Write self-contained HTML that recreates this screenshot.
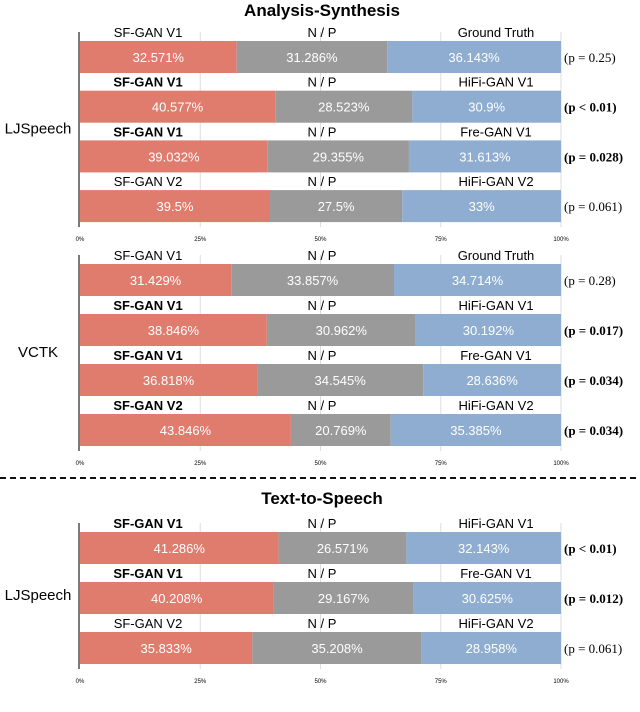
<!DOCTYPE html>
<html><head><meta charset="utf-8"><style>
body{margin:0;background:#fff;}
svg text{font-family:"Liberation Sans",sans-serif;}
.serif{font-family:"Liberation Serif",serif !important;}
</style></head><body>
<svg id="chart" width="640" height="707" viewBox="0 0 640 707" xmlns="http://www.w3.org/2000/svg">
<text x="322" y="16" text-anchor="middle" font-size="17" font-weight="bold">Analysis-Synthesis</text>
<line x1="0" y1="478" x2="640" y2="478" stroke="#111" stroke-width="2" stroke-dasharray="6,4"/>
<text x="322" y="504" text-anchor="middle" font-size="17" font-weight="bold">Text-to-Speech</text>
</svg>
<script>
const panelGroups = ["LJSpeech", "VCTK", "LJSpeech"];
const leftLabels = [
 ["SF-GAN V1","SF-GAN V1","SF-GAN V1","SF-GAN V2"],
 ["SF-GAN V1","SF-GAN V1","SF-GAN V1","SF-GAN V2"],
 ["SF-GAN V1","SF-GAN V1","SF-GAN V2"]];
const leftBold = [[0,1,1,0],[0,1,1,1],[1,1,0]];
const rightLabels = [
 ["Ground Truth","HiFi-GAN V1","Fre-GAN V1","HiFi-GAN V2"],
 ["Ground Truth","HiFi-GAN V1","Fre-GAN V1","HiFi-GAN V2"],
 ["HiFi-GAN V1","Fre-GAN V1","HiFi-GAN V2"]];
const redValues = [[32.571,40.577,39.032,39.5],[31.429,38.846,36.818,43.846],[41.286,40.208,35.833]];
const greyValues = [[31.286,28.523,29.355,27.5],[33.857,30.962,34.545,20.769],[26.571,29.167,35.208]];
const blueValues = [[36.143,30.9,31.613,33],[34.714,30.192,28.636,35.385],[32.143,30.625,28.958]];
const pLabels = [
 ["(p = 0.25)","(p < 0.01)","(p = 0.028)","(p = 0.061)"],
 ["(p = 0.28)","(p = 0.017)","(p = 0.034)","(p = 0.034)"],
 ["(p < 0.01)","(p = 0.012)","(p = 0.061)"]];
const pBold = [[0,1,1,0],[0,1,1,1],[1,1,0]];
const tickValues = [0,25,50,75,100];
const tickLabels = ["0%","25%","50%","75%","100%"];

const NS="http://www.w3.org/2000/svg";
const svg=document.getElementById('chart');
const X0=80, X1=561;
function xs(v){return X0+(X1-X0)*v/100;}
const panelTop=[41,264,532], rowPitch=[49.7,50,50], tickY=[241,465,683], axisTop=[32,255,523];
function mk(tag,attrs,parent){const e=document.createElementNS(NS,tag);for(const k in attrs)e.setAttribute(k,attrs[k]);(parent||svg).appendChild(e);return e;}
const colors=["#E07C6E","#9A9A9A","#8EADD1"];
panelGroups.forEach((g,pi)=>{
  const grp=mk('g',{});
  
  
  const n=redValues[pi].length;
  const bottom=panelTop[pi]+rowPitch[pi]*(n-1)+33;
  tickValues.forEach((t,ti)=>{
    if(ti>0){const gl=mk('line',{x1:xs(t),x2:xs(t),y1:axisTop[pi],y2:bottom+4,stroke:'#ddd','stroke-width':1},grp);
    
    }
    const tl=mk('text',{x:xs(t),y:tickY[pi],'text-anchor':'middle','font-size':6},grp);
    tl.textContent=tickLabels[ti];
    
    
  });
  const ax=mk('line',{x1:X0-1,x2:X0-1,y1:axisTop[pi],y2:bottom+4,stroke:'#222','stroke-width':1.2},grp);
  
  
  const gy=(axisTop[pi]+bottom)/2+6;
  const gt=mk('text',{x:pi==1?38:38,y:gy,'text-anchor':'middle','font-size':15},grp);
  gt.textContent=g;
  
  
  for(let r=0;r<n;r++){
    const y=panelTop[pi]+rowPitch[pi]*r;
    const vals=[redValues[pi][r],greyValues[pi][r],blueValues[pi][r]];
    let acc=0;
    vals.forEach((v,si)=>{
      const b=mk('rect',{x:xs(acc),y:y,width:xs(acc+v)-xs(acc),height:32,fill:colors[si]},grp);
      
      
      const vt=mk('text',{x:(xs(acc)+xs(acc+v))/2,y:y+21,'text-anchor':'middle','font-size':13,fill:'#fff'},grp);
      vt.textContent=v+'%';
      
      
      acc+=v;
    });
    const ly=y-4;
    const ll=mk('text',{x:148,y:ly,'text-anchor':'middle','font-size':13,'font-weight':leftBold[pi][r]?'bold':'normal'},grp);
    ll.textContent=leftLabels[pi][r];
    
    
    const np=mk('text',{x:322,y:ly,'text-anchor':'middle','font-size':13},grp);
    np.textContent='N / P';
    
    
    const rl=mk('text',{x:496,y:ly,'text-anchor':'middle','font-size':13},grp);
    rl.textContent=rightLabels[pi][r];
    
    
    const pl=mk('text',{x:564,y:y+21,'font-size':13,'font-weight':pBold[pi][r]?'bold':'normal','class':'serif'},grp);
    pl.textContent=pLabels[pi][r];
    
    
  }
});
</script>
</body></html>
